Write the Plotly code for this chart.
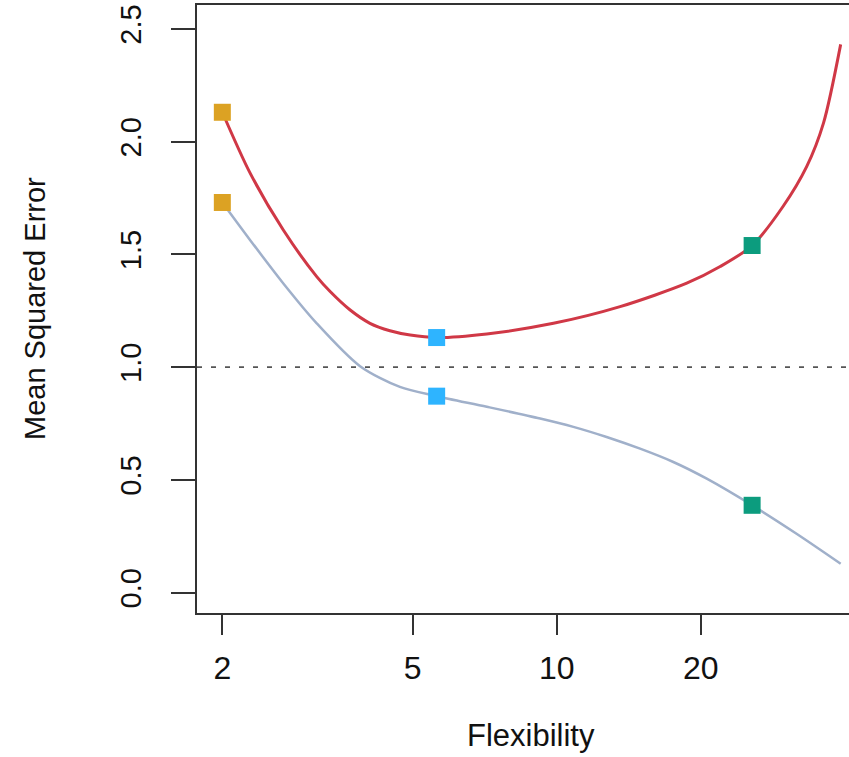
import plotly.graph_objects as go

# ---- data ----
flex_test = [2, 2.285, 2.68, 3.15, 3.36, 3.70, 4.07, 4.48, 4.94, 5.61, 7.14, 9.84, 13.56, 18.69, 21.95, 25.6, 29.7, 33.3, 36.1, 39.2]
mse_test = [2.130, 1.861, 1.609, 1.401, 1.335, 1.253, 1.194, 1.161, 1.142, 1.131, 1.147, 1.194, 1.268, 1.372, 1.446, 1.539, 1.712, 1.890, 2.083, 2.431]

flex_train = [2, 2.285, 2.68, 3.15, 3.88, 4.70, 5.61, 7.14, 9.23, 10.83, 12.71, 14.93, 17.52, 20.58, 25.6, 31.7, 39.2]
mse_train = [1.730, 1.564, 1.372, 1.194, 1.004, 0.912, 0.871, 0.824, 0.772, 0.735, 0.690, 0.638, 0.579, 0.505, 0.387, 0.261, 0.128]

marker_flex = [2, 5.61, 25.6]
marker_test = [2.130, 1.131, 1.539]
marker_train = [1.730, 0.871, 0.387]
marker_colors = ["#DCA223", "#2EB4FF", "#0C9C7E"]

irreducible_error = 1.0

x_ticks = [2, 5, 10, 20]
x_tick_labels = ["2", "5", "10", "20"]
y_ticks = [0.0, 0.5, 1.0, 1.5, 2.0, 2.5]
y_tick_labels = ["0.0", "0.5", "1.0", "1.5", "2.0", "2.5"]

FONT = "Liberation Sans, Arial, sans-serif"
AXIS_COLOR = "#333333"

fig = go.Figure()

fig.add_trace(go.Scatter(x=flex_train, y=mse_train, mode="lines",
                         line=dict(color="#A0B0CA", width=2.5, shape="spline", smoothing=0.8),
                         showlegend=False, hoverinfo="skip"))
fig.add_trace(go.Scatter(x=flex_test, y=mse_test, mode="lines",
                         line=dict(color="#D03846", width=3, shape="spline", smoothing=0.8),
                         showlegend=False, hoverinfo="skip"))
fig.add_trace(go.Scatter(x=marker_flex, y=marker_train, mode="markers",
                         marker=dict(symbol="square", size=17, color=marker_colors, line=dict(width=0)),
                         showlegend=False))
fig.add_trace(go.Scatter(x=marker_flex, y=marker_test, mode="markers",
                         marker=dict(symbol="square", size=17, color=marker_colors, line=dict(width=0)),
                         showlegend=False))

fig.add_hline(y=irreducible_error, line=dict(color="#555555", width=1.6, dash="5px,9px"))

fig.update_layout(
    width=849, height=757,
    margin=dict(l=197, r=0, t=5, b=144, pad=0),
    paper_bgcolor="white", plot_bgcolor="white",
    font=dict(family=FONT, color="#111111"),
    showlegend=False,
    xaxis=dict(
        type="log", range=[0.2481, 1.6107],
        tickvals=x_ticks, ticktext=x_tick_labels,
        showgrid=False, zeroline=False,
        showline=True, linecolor=AXIS_COLOR, linewidth=2, mirror=True,
        ticks="outside", ticklen=20, tickwidth=2, tickcolor=AXIS_COLOR,
        tickfont=dict(size=32, family=FONT, color="#111111"),
        ticklabelstandoff=6,
        automargin=False,
    ),
    yaxis=dict(
        range=[-0.0906, 2.6057],
        tickvals=y_ticks, ticktext=y_tick_labels,
        showgrid=False, zeroline=False,
        showline=True, linecolor=AXIS_COLOR, linewidth=2, mirror=False,
        ticks="outside", ticklen=24, tickwidth=2, tickcolor=AXIS_COLOR,
        tickangle=-90,
        tickfont=dict(size=29, family=FONT, color="#111111"),
        ticklabelstandoff=18,
        automargin=False,
    ),
    annotations=[
        dict(text="Mean Squared Error", xref="paper", yref="paper", x=0, y=0.5,
             xanchor="center", yanchor="middle", xshift=-162, textangle=-90,
             showarrow=False, font=dict(size=29, family=FONT, color="#111111")),
        dict(text="Flexibility", xref="paper", yref="paper", x=0.5, y=0,
             xanchor="center", yanchor="bottom", xshift=8, yshift=-142,
             showarrow=False, font=dict(size=31, family=FONT, color="#111111")),
    ],
)

fig.write_html("out.html", config={"displayModeBar": False},
               post_script="document.body.style.margin='0px';")
